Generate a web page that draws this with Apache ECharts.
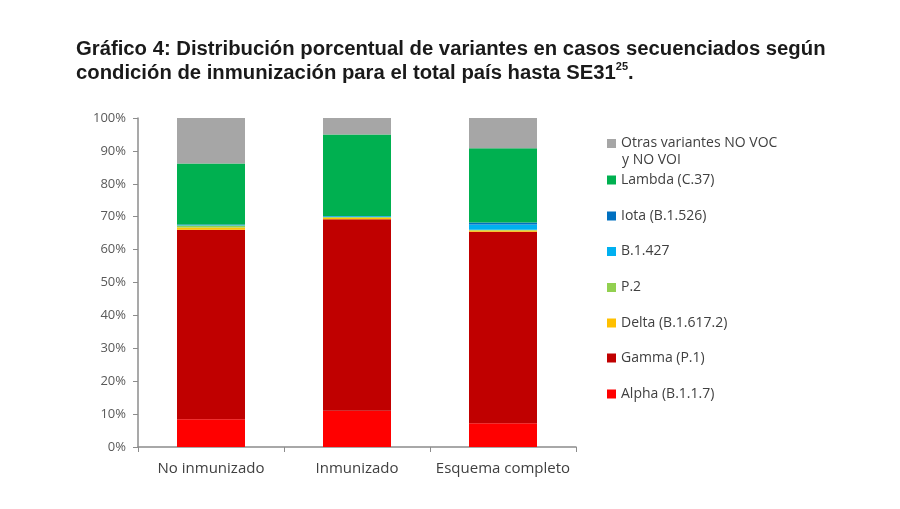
<!DOCTYPE html>
<html>
<head>
<meta charset="utf-8">
<script src="https://cdn.jsdelivr.net/npm/echarts@6/dist/echarts.min.js"></script>
<style>html,body{margin:0;padding:0;background:#fff}#c{width:900px;height:509px}</style>
</head>
<body>
<div id="c"></div>
<script>
const categories = ['No inmunizado', 'Inmunizado', 'Esquema completo'];
const seriesNames = ['Alpha (B.1.1.7)', 'Gamma (P.1)', 'Delta (B.1.617.2)', 'P.2', 'B.1.427', 'Iota (B.1.526)', 'Lambda (C.37)', 'Otras variantes NO VOC y NO VOI'];
const alpha  = [8.4, 11.0, 7.2];
const gamma  = [57.6, 58.2, 58.2];
const delta  = [0.7, 0.5, 0.4];
const p2     = [0.6, 0.2, 0.2];
const b1427  = [0.2, 0.2, 1.6];
const iota   = [0.1, 0.1, 0.6];
const lambda = [18.6, 24.8, 22.6];
const otras  = [13.8, 5.0, 9.2];
const yTicks = [0, 10, 20, 30, 40, 50, 60, 70, 80, 90, 100];

const values = [alpha, gamma, delta, p2, b1427, iota, lambda, otras];
const colors = ['#ff0000', '#c00000', '#ffc000', '#92d050', '#00b0f0', '#0070c0', '#00b050', '#a6a6a6'];

const font = 'Open Sans';
const legendCenters = [394, 358, 323, 287.5, 251.5, 216, 180, 143.5];

const legends = seriesNames.map((n, i) => {
  const isOtras = i === 7;
  return {
    data: [n],
    orient: 'vertical',
    left: 607,
    top: legendCenters[i] - 8,
    padding: 0,
    itemWidth: 9,
    itemHeight: 9,
    itemGap: 0,
    icon: 'rect',
    selectedMode: false,
    formatter: isOtras ? 'Otras variantes NO VOC' : '{name}',
    textStyle: {
      fontFamily: font,
      fontSize: 14,
      color: '#404040',
      lineHeight: 16
    }
  };
});

const series = seriesNames.map((n, i) => ({
  name: n,
  type: 'bar',
  stack: 'total',
  barWidth: 68,
  data: values[i],
  itemStyle: { color: colors[i] },
  emphasis: { disabled: true }
}));

const chart = echarts.init(document.getElementById('c'), null, { renderer: 'canvas' });
chart.setOption({
  animation: false,
  backgroundColor: '#ffffff',
  title: {
    left: 76,
    top: 37,
    padding: 0,
    text: 'Gráfico 4: Distribución porcentual de variantes en casos secuenciados según\ncondición de inmunización para el total país hasta SE31{sup|25}.',
    textStyle: {
      fontFamily: 'Liberation Sans',
      fontWeight: 'bold',
      fontSize: 20.3,
      lineHeight: 24,
      color: '#1a1a1a',
      rich: {
        sup: { fontFamily: 'Liberation Sans', fontWeight: 'bold', fontSize: 11, verticalAlign: 'top', lineHeight: 24, padding: [0, 0, 8, 0], color: '#1a1a1a' }
      }
    }
  },
  legend: legends,
  graphic: [{
    type: 'text',
    left: 622,
    top: 153,
    style: { text: 'y NO VOI', font: '14px "Open Sans"', fill: '#404040' },
    silent: true
  }],
  grid: { left: 138, right: 324, top: 118, bottom: 62, containLabel: false },
  xAxis: {
    type: 'category',
    data: categories,
    axisLine: { lineStyle: { color: '#8c8c8c', width: 1.5 } },
    axisTick: { show: true, length: 5, lineStyle: { color: '#8c8c8c' } },
    axisLabel: { interval: 0, fontFamily: font, fontSize: 15, color: '#404040', margin: 14 }
  },
  yAxis: {
    type: 'value',
    min: 0,
    max: 100,
    interval: 10,
    axisLine: { show: true, lineStyle: { color: '#8c8c8c', width: 1.5 } },
    axisTick: { show: true, length: 5, lineStyle: { color: '#8c8c8c' } },
    splitLine: { show: false },
    axisLabel: {
      fontFamily: font, fontSize: 13, color: '#595959', margin: 12,
      formatter: v => (yTicks.indexOf(v) >= 0 ? v + '%' : '')
    }
  },
  series: series
});
</script>
</body>
</html>
